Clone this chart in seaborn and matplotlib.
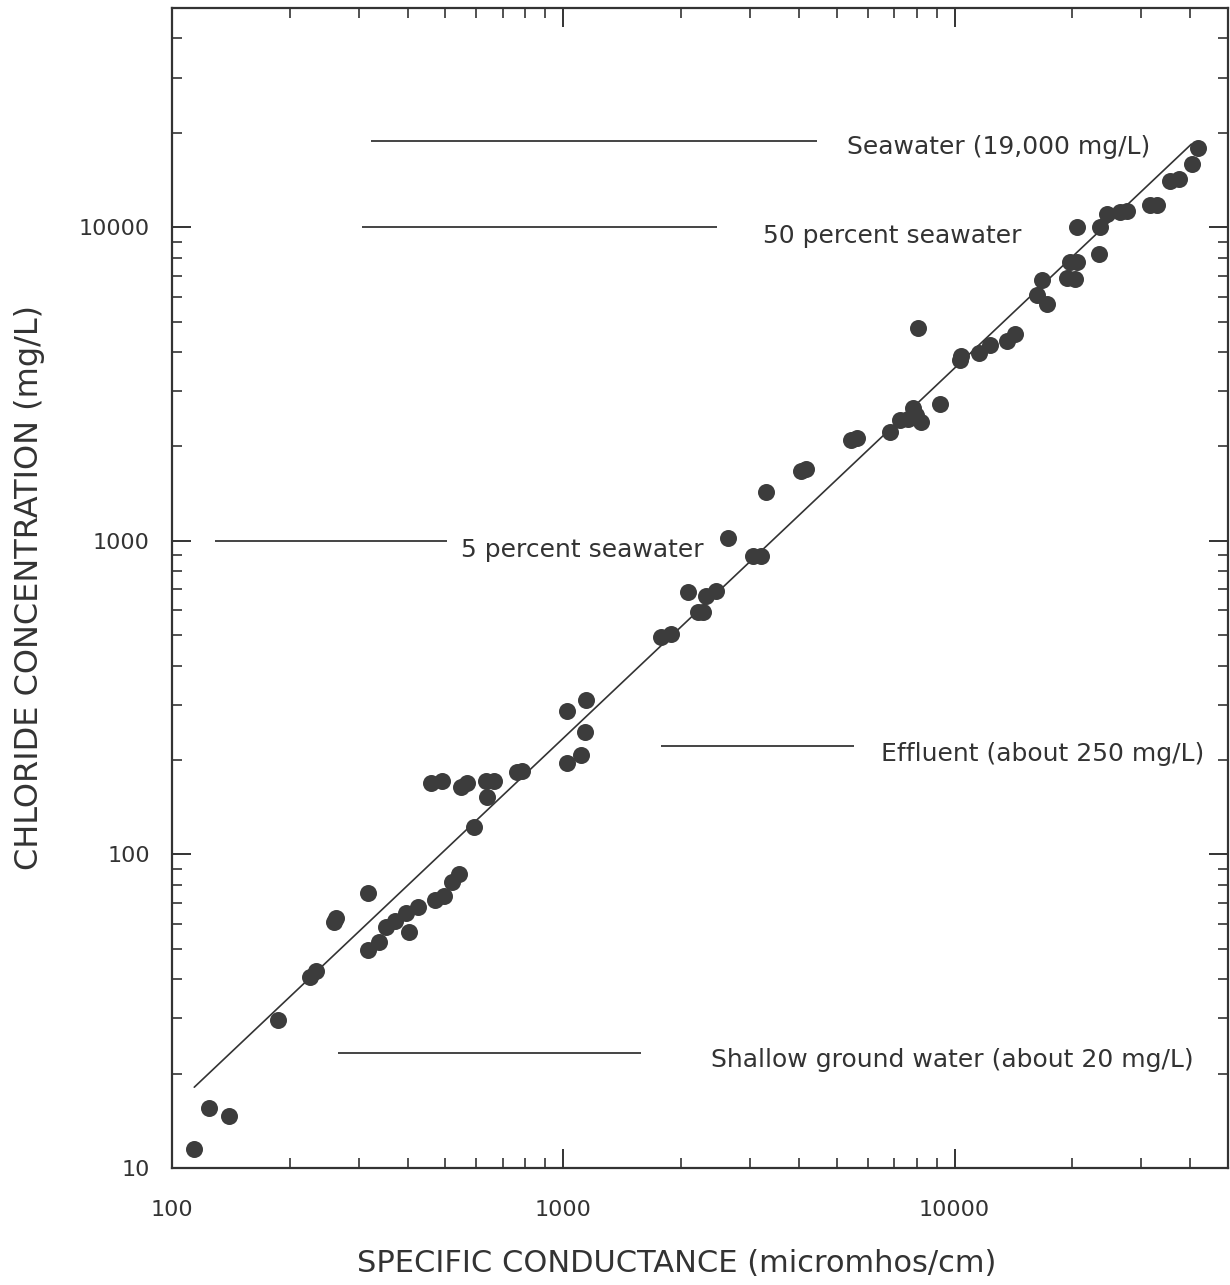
import matplotlib
matplotlib.use("Agg")
import matplotlib.pyplot as plt
import matplotlib.ticker as mticker
import seaborn as sns
import pandas as pd

# samples: specific conductance (micromhos/cm) vs chloride (mg/L)
conductance = [114, 124, 140, 187, 225, 234, 259, 263, 316, 316, 339, 353, 372, 397, 404,
               426, 471, 496, 520, 542, 592, 460, 490, 548, 568, 635, 665, 638, 762, 785,
               1021, 1141, 1134, 1108, 1021, 1782, 1890, 2088, 2320, 2461, 2210, 2270, 2641,
               3058, 3204, 3300, 4052, 4173, 5433, 5627, 6830, 7240, 7592, 7816, 7955, 8190,
               9158, 8048, 10300, 10360, 11580, 12350, 13650, 14300, 16270, 17250, 16760,
               19410, 20340, 19750, 20580, 20580, 23410, 23550, 24530, 26480, 27590, 31580,
               32910, 35500, 37430, 40410, 41850]
chloride = [11.5, 15.5, 14.7, 29.7, 40.7, 42.5, 61, 62.8, 75.4, 49.6, 52.6, 58.8, 61.4, 65.2, 56.7,
            68.1, 71.7, 73.8, 81.8, 86.8, 122, 169, 171, 164, 169, 171, 171, 152, 183, 185,
            286, 310, 246, 208, 196, 495, 503, 685, 665, 690, 591, 591, 1018,
            892, 892, 1427, 1665, 1690, 2092, 2123, 2218, 2423, 2441, 2646, 2513, 2387,
            2725, 4763, 3765, 3877, 3964, 4205, 4331, 4558, 6072, 5684, 6780,
            6880, 6830, 7740, 7740, 10000, 8207, 10000, 11010, 11170, 11250, 11760,
            11760, 14030, 14240, 15900, 17880]

# fitted relation
fit_sc = [114, 40300]
fit_cl = [18.1, 18400]

# reference concentrations
ref_labels = ["Seawater (19,000 mg/L)", "50 percent seawater", "5 percent seawater",
              "Effluent (about 250 mg/L)", "Shallow ground water (about 20 mg/L)"]
ref_level = [18800, 10000, 1000, 222, 23.3]
ref_start = [323, 306, 129, 1775, 266]
ref_end = [4460, 2477, 504, 5530, 1580]

# where each label sits (left edge, baseline)
label_x = [5306, 3242, 548, 6479, 2389]
label_y = [17120, 8900, 891, 199, 21.0]

ink = "#333333"

sns.set_style("ticks")
plt.rcParams['font.family'] = ['DejaVu Sans']

fig = plt.figure(figsize=(12.3, 12.85), dpi=100)
ax = fig.add_axes([172 / 1230, 117 / 1285, 1056 / 1230, 1160 / 1285])
ax.set_xscale('log')
ax.set_yscale('log')

df = pd.DataFrame({'conductance': conductance, 'chloride': chloride})
sns.scatterplot(data=df, x='conductance', y='chloride', s=150, color="#3c3c3c",
                linewidth=0, ax=ax, zorder=3, legend=False)
sns.lineplot(x=fit_sc, y=fit_cl, color=ink, linewidth=1.2, ax=ax, zorder=2)

ax.hlines(ref_level, ref_start, ref_end, color="#444444", linewidth=1.4)
for lab, lx, ly in zip(ref_labels, label_x, label_y):
    ax.text(lx, ly, lab, fontsize=18, color=ink, ha='left', va='baseline')

ax.set_xlim(100, 50000)
ax.set_ylim(10, 50000)

for axis in (ax.xaxis, ax.yaxis):
    axis.set_major_locator(mticker.LogLocator(base=10, numticks=10))
    axis.set_minor_locator(mticker.LogLocator(base=10, subs=range(2, 10), numticks=10))
    axis.set_major_formatter(mticker.FuncFormatter(lambda v, p: f"{int(round(v))}"))
    axis.set_minor_formatter(mticker.NullFormatter())

ax.tick_params(which='both', direction='in', top=True, right=True, colors=ink)
ax.tick_params(which='major', length=14, width=1.4, labelsize=16)
ax.tick_params(axis='x', which='major', pad=23)
ax.tick_params(axis='y', which='major', pad=16)
ax.tick_params(which='minor', length=7, width=1.2)
for sp in ax.spines.values():
    sp.set_color(ink)
    sp.set_linewidth(1.6)

ax.set_xlabel("SPECIFIC CONDUCTANCE (micromhos/cm)", fontsize=22, color=ink)
ax.set_ylabel("CHLORIDE CONCENTRATION (mg/L)", fontsize=23, color=ink)
ax.xaxis.set_label_coords(0.478, -0.07)
ax.yaxis.set_label_coords(-0.12, 0.5)

fig.savefig("out.png", dpi=100)
